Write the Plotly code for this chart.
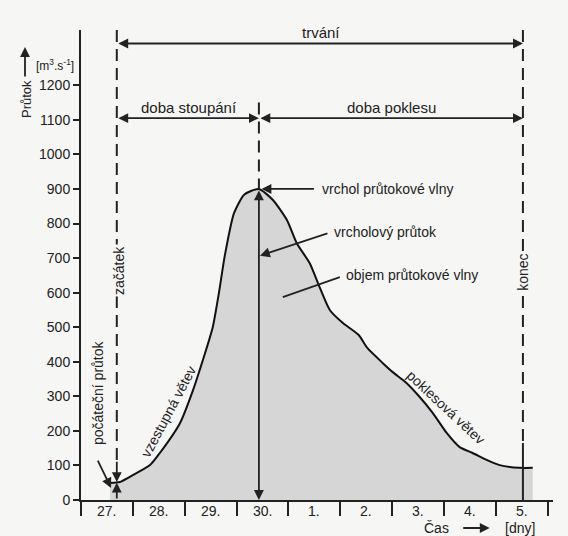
import plotly.graph_objects as go

# ---- data ----
day_labels = ["27.", "28.", "29.", "30.", "1.", "2.", "3.", "4.", "5."]
day_ticks = list(range(10))
flow_ticks = list(range(0, 1300, 100))

time = [0.56, 0.75, 0.94, 1.33, 1.52, 1.91, 2.16, 2.35, 2.54, 2.66, 2.77, 2.95, 3.15, 3.43,
        3.70, 3.97, 4.16, 4.41, 4.60, 4.80, 5.05, 5.35, 5.52, 5.82, 6.01, 6.28, 6.53, 6.78,
        7.05, 7.30, 7.55, 7.82, 8.07, 8.46, 8.71]
flow = [49, 52, 67, 101, 136, 223, 318, 405, 500, 600, 705, 830, 884, 900,
        868, 810, 743, 685, 616, 549, 512, 478, 440, 396, 370, 338, 298, 252,
        194, 153, 136, 116, 101, 93, 93]

t_start = 0.69
t_peak = 3.43
t_end = 8.52
q_start = 52
q_peak = 900

BG = "#f6f6f4"
INK = "#222222"
FONT = "Liberation Sans, Arial, sans-serif"

fig = go.Figure()
fig.add_trace(go.Scatter(
    x=time, y=flow, mode="lines", fill="tozeroy",
    fillcolor="#d6d6d6", line=dict(color="#111111", width=2, shape="spline", smoothing=0.6),
    hoverinfo="skip", showlegend=False))

shapes = []
dash = "12px,7px"
shapes.append(dict(type="line", xref="x", yref="y", x0=t_start, x1=t_start, y0=1360, y1=115,
                   line=dict(color=INK, width=2, dash=dash)))
shapes.append(dict(type="line", xref="x", yref="y", x0=t_peak, x1=t_peak, y0=1150, y1=q_peak,
                   line=dict(color=INK, width=2, dash=dash)))
shapes.append(dict(type="line", xref="x", yref="y", x0=t_end, x1=t_end, y0=1360, y1=165,
                   line=dict(color=INK, width=2, dash=dash)))
shapes.append(dict(type="line", xref="x", yref="y", x0=t_end, x1=t_end, y0=165, y1=0,
                   line=dict(color=INK, width=2)))
shapes.append(dict(type="line", xref="x", yref="y", x0=4.99, x1=3.89, y0=645, y1=587,
                   line=dict(color=INK, width=1.8)))

ann = []
def arrow(x, y, ax, ay, side="end"):
    ann.append(dict(x=x, y=y, ax=ax, ay=ay, xref="x", yref="y", axref="x", ayref="y",
                    text="", showarrow=True, arrowhead=2, arrowsize=1.1, arrowwidth=1.8,
                    arrowcolor=INK, arrowside=side, standoff=0, startstandoff=0))

def label(x, y, text, size=14, xanchor="center", yanchor="middle", angle=0, bg=None, **kw):
    d = dict(x=x, y=y, xref="x", yref="y", text=text, showarrow=False,
             font=dict(family=FONT, size=size, color=INK), xanchor=xanchor,
             yanchor=yanchor, textangle=angle)
    if bg:
        d["bgcolor"] = bg
    d.update(kw)
    ann.append(d)

arrow(t_end, 1321, t_start, 1321, side="end+start")
arrow(t_peak, 1105, t_start, 1105, side="end+start")
arrow(t_end, 1105, t_peak, 1105, side="end+start")
label(4.62, 1321, "trvání", yanchor="bottom", size=15)
label(2.08, 1105, "doba stoupání", yanchor="bottom", size=15)
label(5.99, 1105, "doba poklesu", yanchor="bottom", size=15)

arrow(t_start, q_start, t_start, 115)
arrow(t_start, q_start - 2, t_start, 0)
arrow(t_peak, 0, t_peak, q_peak, side="end+start")
arrow(3.48, q_peak, 4.52, q_peak)
label(4.6, q_peak, "vrchol průtokové vlny", xanchor="left")
arrow(3.45, 707, 4.78, 773)
label(4.84, 775, "vrcholový průtok", xanchor="left")
label(5.08, 651, "objem průtokové vlny", xanchor="left")
label(0.33, 310, "počáteční průtok", angle=-90)
arrow(0.58, 35, 0.31, 118)
label(t_start, 665, "začátek", angle=-90, bg=BG, xshift=2)
label(t_end, 660, "konec", angle=-90, bg=BG)
label(1.68, 255, "vzestupná větev", angle=-62)
label(7.01, 252, "poklesová větev", angle=43, yshift=6, xshift=1)

for i, lab in enumerate(day_labels):
    ann.append(dict(x=i + 0.5, y=0, xref="x", yref="paper", text=lab, showarrow=False,
                    yanchor="middle", yshift=-11, font=dict(family=FONT, size=14, color=INK)))

ann.append(dict(x=6.86, y=0, xref="x", yref="paper", text="Čas", showarrow=False,
                yanchor="middle", yshift=-28, font=dict(family=FONT, size=14, color=INK)))
ann.append(dict(x=7.88, y=0, xref="x", yref="paper", text="", showarrow=True, ax=-28, ay=0,
                yshift=-28, arrowhead=2, arrowsize=1.1, arrowwidth=1.8, arrowcolor=INK, standoff=0))
ann.append(dict(x=8.46, y=0, xref="x", yref="paper", text="[dny]", showarrow=False,
                yanchor="middle", yshift=-28, font=dict(family=FONT, size=14, color=INK)))
ann.append(dict(x=0, y=1, xref="paper", yref="paper", text="Průtok", showarrow=False,
                textangle=-90, xanchor="center", yanchor="middle", xshift=-55, yshift=-69,
                font=dict(family=FONT, size=13, color=INK)))
ann.append(dict(x=0, y=1, xref="paper", yref="paper", text="", showarrow=True,
                xshift=-56, yshift=-17, ax=0, ay=31, arrowhead=2, arrowsize=1.1,
                arrowwidth=1.8, arrowcolor=INK, standoff=0))
ann.append(dict(x=0, y=1, xref="paper", yref="paper",
                text="[m<sup>3</sup>.s<sup>-1</sup>]", showarrow=False,
                xanchor="center", yanchor="middle", xshift=-26, yshift=-35,
                font=dict(family=FONT, size=12, color=INK)))

fig.update_layout(
    width=568, height=536,
    margin=dict(l=81, r=15, t=30, b=36),
    paper_bgcolor=BG, plot_bgcolor=BG,
    shapes=shapes, annotations=ann,
    showlegend=False,
    xaxis=dict(range=[0, 9.1], tickvals=day_ticks, showticklabels=False, ticks="outside",
               ticklen=14, tickwidth=2, tickcolor=INK, showline=True, linewidth=2,
               linecolor=INK, showgrid=False, zeroline=False, fixedrange=True),
    yaxis=dict(range=[0, 1360], tickvals=flow_ticks, ticks="outside", ticklen=6,
               tickwidth=2, tickcolor=INK, showline=True, linewidth=2, linecolor=INK,
               showgrid=False, zeroline=False, tickfont=dict(family=FONT, size=14, color=INK),
               fixedrange=True, automargin=False),
)

fig.write_html("out.html", config={"displayModeBar": False},
               post_script="document.body.style.margin='0';document.body.style.overflow='hidden';document.body.style.background='#f6f6f4';")
